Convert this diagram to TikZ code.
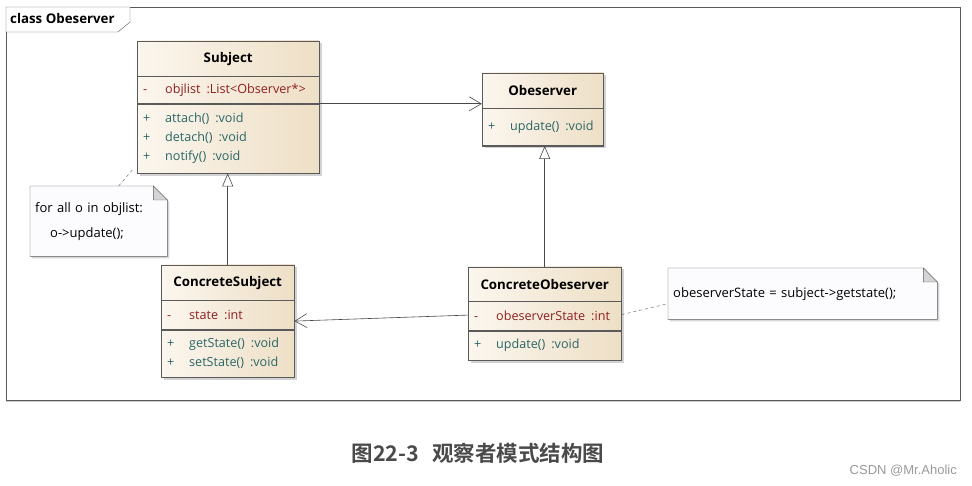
\documentclass[tikz,border=0pt]{standalone}
\usepackage{fontspec}
\setmainfont{Open Sans}
\newfontfamily\cjkfont{Noto Sans CJK SC}[BoldFont={Noto Sans CJK SC Bold}]
\newfontfamily\markfont{Liberation Sans}
\usetikzlibrary{positioning, fit, backgrounds, shadows, arrows.meta}

\definecolor{boxline}{HTML}{5A5A5A}
\definecolor{boxlight}{HTML}{FBF6EE}
\definecolor{boxdark}{HTML}{EEDFC6}
\definecolor{attrred}{HTML}{8E1F1F}
\definecolor{opteal}{HTML}{2A6666}
\definecolor{notefill}{HTML}{FCFCFE}
\definecolor{foldgray}{HTML}{D4D4D4}
\definecolor{captiongray}{HTML}{4A4A4A}
\definecolor{markgray}{HTML}{9A9A9A}

\newcommand{\umlsign}[1]{\makebox[22pt][l]{#1}}
\newcommand{\umlgap}{\hspace{6pt}}

\begin{document}
\begin{tikzpicture}[
    x=1pt, y=-1pt,
    umlhead/.style={draw=boxline, anchor=north west, inner sep=0pt,
        font=\fontsize{13.3}{16}\selectfont\bfseries, align=center},
    umlpart/.style={draw=boxline, inner xsep=6pt, inner ysep=0pt,
        font=\fontsize{12.6}{19}\selectfont, align=left},
    umlshade/.style={inner sep=0pt, draw=boxline, left color=boxlight, right color=boxdark,
        drop shadow={shadow xshift=2.5pt, shadow yshift=-2.5pt, opacity=0.35}},
    umlnote/.style={draw=boxline, fill=notefill,
        drop shadow={shadow xshift=2pt, shadow yshift=-2pt, opacity=0.3}},
    notetext/.style={anchor=north west, inner xsep=5pt, inner ysep=0pt,
        font=\fontsize{13}{25}\selectfont, align=left},
    assoc/.style={draw=boxline!80!black, semithick, -{Straight Barb[length=12pt, width=14pt]}},
    inherit/.style={draw=boxline!80!black, semithick, -{Triangle[open, fill=white, length=13pt, width=11pt]}},
    anchorline/.style={draw=boxline, thin, dash pattern=on 3pt off 3pt}
]
    \useasboundingbox (0,0) rectangle (972,486);

    % frame with its tab
    \begin{scope}[on background layer]
        \node[draw=boxline, anchor=north west, minimum width=954pt, minimum height=393pt,
            inner sep=0pt, fill=white,
            drop shadow={shadow xshift=0pt, shadow yshift=-2pt, opacity=0.4}] (Frame) at (6,7) {};
        \draw[boxline, fill=white] (6,7) -- (130,7) -- (130,22) -- (118,32) -- (6,32) -- cycle;
    \end{scope}
    \node[anchor=west, inner sep=0pt, font=\fontsize{13.3}{15}\selectfont\bfseries] (FrameTab) at (10,19) {class Obeserver};

    % Subject
    \node[umlhead, text width=182pt, minimum height=35pt] (SubjectHead) at (137,41) {Subject};
    \node[umlpart, text width=170pt, minimum height=27pt, below=0pt of SubjectHead] (SubjectAttr)
        {\color{attrred}\umlsign{-}objlist\umlgap:List<Observer*>};
    \node[umlpart, text width=170pt, minimum height=69pt, below=0pt of SubjectAttr] (SubjectOps)
        {\color{opteal}\umlsign{+}attach()\umlgap:void\\\umlsign{+}detach()\umlgap:void\\\umlsign{+}notify()\umlgap:void};

    % Obeserver
    \node[umlhead, text width=121pt, minimum height=35pt] (ObeserverHead) at (482,73) {Obeserver};
    \node[umlpart, text width=109pt, minimum height=37pt, below=0pt of ObeserverHead] (ObeserverOps)
        {\color{opteal}\umlsign{+}update()\umlgap:void};

    % ConcreteSubject
    \node[umlhead, text width=133pt, minimum height=35pt] (ConcreteSubjectHead) at (161,265) {ConcreteSubject};
    \node[umlpart, text width=121pt, minimum height=29pt, below=0pt of ConcreteSubjectHead] (ConcreteSubjectAttr)
        {\color{attrred}\umlsign{-}state\umlgap:int};
    \node[umlpart, text width=121pt, minimum height=47pt, below=0pt of ConcreteSubjectAttr] (ConcreteSubjectOps)
        {\color{opteal}\umlsign{+}getState()\umlgap:void\\\umlsign{+}setState()\umlgap:void};

    % ConcreteObeserver
    \node[umlhead, text width=153pt, minimum height=34pt] (ConcreteObeserverHead) at (468,267) {ConcreteObeserver};
    \node[umlpart, text width=141pt, minimum height=29pt, below=0pt of ConcreteObeserverHead] (ConcreteObeserverAttr)
        {\color{attrred}\umlsign{-}obeserverState\umlgap:int};
    \node[umlpart, text width=141pt, minimum height=29pt, below=0pt of ConcreteObeserverAttr] (ConcreteObeserverOps)
        {\color{opteal}\umlsign{+}update()\umlgap:void};

    % notes
    \node[notetext, text width=127pt, minimum height=70pt] (LoopNote) at (30,186)
        {for all o in objlist:\\\hspace{15pt}o->update();};
    \node[notetext, text width=259pt, minimum height=51pt] (StateNote) at (668,268)
        {\hspace{0pt}obeserverState = subject->getstate();};

    \begin{scope}[on background layer]
        \node[umlshade, fit=(SubjectHead)(SubjectOps)] (Subject) {};
        \node[umlshade, fit=(ObeserverHead)(ObeserverOps)] (Obeserver) {};
        \node[umlshade, fit=(ConcreteSubjectHead)(ConcreteSubjectOps)] (ConcreteSubject) {};
        \node[umlshade, fit=(ConcreteObeserverHead)(ConcreteObeserverOps)] (ConcreteObeserver) {};
        \foreach \note in {LoopNote, StateNote} {
            \path[umlnote] (\note.north west) -- ([xshift=-14pt]\note.north east)
                -- ([yshift=-14pt]\note.north east) -- (\note.south east)
                -- (\note.south west) -- cycle;
            \filldraw[draw=boxline, fill=foldgray] ([xshift=-14pt]\note.north east)
                -- ([xshift=-14pt, yshift=-14pt]\note.north east)
                -- ([yshift=-14pt]\note.north east) -- cycle;
        }
    \end{scope}

    % connectors
    \draw[assoc] (SubjectAttr.south east) -- (SubjectAttr.south east -| Obeserver.west);
    \draw[assoc] ([yshift=1pt]ConcreteObeserverAttr.west) -- ([yshift=-6pt]ConcreteSubjectAttr.east);
    \draw[inherit] (ConcreteSubject.north) -- (ConcreteSubject.north |- Subject.south);
    \draw[inherit] (ConcreteObeserver.north) -- (ConcreteObeserver.north |- Obeserver.south);
    \draw[anchorline] ([xshift=20pt]LoopNote.north) -- ([xshift=-4pt, yshift=4pt]Subject.south west);
    \draw[anchorline] ([yshift=-1pt]ConcreteObeserver.east) -- ([yshift=-10pt]StateNote.west);

    % caption and mark
    \node[font=\cjkfont\bfseries\fontsize{21.5}{26}\selectfont, text=captiongray] (Caption) at (478,453)
        {图22-3\hspace{0.6em}观察者模式结构图};
    \node[anchor=east, inner sep=0pt, font=\markfont\fontsize{13}{15}\selectfont, text=markgray] (Mark) at (957,471)
        {CSDN @Mr.Aholic};
\end{tikzpicture}
\end{document}
